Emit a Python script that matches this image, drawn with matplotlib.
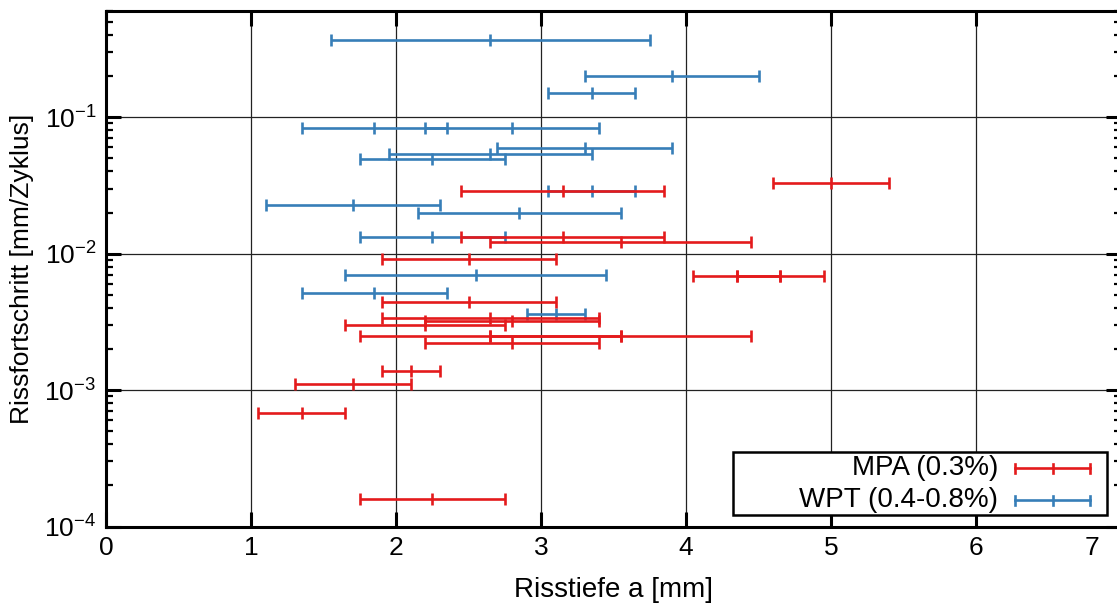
import matplotlib
matplotlib.use("Agg")
import matplotlib.pyplot as plt
import matplotlib.transforms as mtransforms
from matplotlib.lines import Line2D
from matplotlib.patches import Rectangle
import numpy as np

plt.rcParams['font.family'] = ['Liberation Sans', 'DejaVu Sans']
plt.rcParams['mathtext.fontset'] = 'custom'
plt.rcParams['mathtext.rm'] = 'Liberation Sans'
plt.rcParams['mathtext.it'] = 'Liberation Sans'
plt.rcParams['mathtext.default'] = 'regular'

# ---- data ----
mpa_label = "MPA (0.3%)"
mpa_x    = [3.15, 5.00, 3.15, 3.55, 2.50, 4.35, 4.65, 2.50, 2.65, 2.80, 2.20, 2.65, 3.55, 2.80, 2.10, 1.70, 1.35, 2.25]
mpa_xerr = [0.70, 0.40, 0.70, 0.90, 0.60, 0.30, 0.30, 0.60, 0.75, 0.60, 0.55, 0.90, 0.90, 0.60, 0.20, 0.40, 0.30, 0.50]
mpa_y    = [0.029, 0.033, 0.0132, 0.0122, 0.0091, 0.0069, 0.0068, 0.0044, 0.0034, 0.0032, 0.0030,
            0.0025, 0.0025, 0.0022, 0.00138, 0.0011, 0.00068, 0.00016]

wpt_label = "WPT (0.4-0.8%)"
wpt_x    = [2.65, 3.90, 3.35, 1.85, 2.80, 3.30, 2.65, 2.25, 3.35, 1.70, 2.85, 2.25, 2.55, 1.85, 3.10]
wpt_xerr = [1.10, 0.60, 0.30, 0.50, 0.60, 0.60, 0.70, 0.50, 0.30, 0.60, 0.70, 0.50, 0.90, 0.50, 0.20]
wpt_y    = [0.37, 0.20, 0.15, 0.083, 0.083, 0.059, 0.0537, 0.049, 0.029, 0.0227, 0.0199, 0.0132,
            0.0070, 0.00516, 0.0036]

x_ticks = [0, 1, 2, 3, 4, 5, 6, 7]
y_ticks = [1e-4, 1e-3, 1e-2, 1e-1]

red = '#E41A1C'
blue = '#377EB8'

W, H = 1117, 607
fig = plt.figure(figsize=(W / 100, H / 100), dpi=100)
ax = fig.add_axes([106 / W, 1 - 526.5 / H, (1121 - 106) / W, (526.5 - 11) / H])

eb_kw = dict(fmt='none', elinewidth=1.9, capsize=4.5, capthick=1.9, zorder=3)
ax.errorbar(wpt_x, wpt_y, xerr=wpt_xerr, ecolor=blue, **eb_kw)
ax.plot(wpt_x, wpt_y, ls='none', marker='|', ms=9, mew=1.9, color=blue, zorder=3)
ax.errorbar(mpa_x, mpa_y, xerr=mpa_xerr, ecolor=red, **eb_kw)
ax.plot(mpa_x, mpa_y, ls='none', marker='|', ms=9, mew=1.9, color=red, zorder=3)

ax.set_yscale('log')
ax.set_xlim(0, 7)
ax.set_ylim(1e-4, 0.6)
ax.set_xticks(x_ticks)
ax.set_xticklabels([str(t) for t in x_ticks])
ax.set_yticks(y_ticks)
ax.set_yticklabels([r'$10^{-4}$', r'$10^{-3}$', r'$10^{-2}$', r'$10^{-1}$'])
ax.yaxis.set_minor_locator(matplotlib.ticker.LogLocator(base=10, subs=np.arange(2, 10)))
ax.yaxis.set_minor_formatter(matplotlib.ticker.NullFormatter())

ax.grid(True, which='major', color='#222222', lw=0.9, zorder=1)
ax.tick_params(which='major', direction='in', length=11, width=2.2, top=True, right=True,
               labelsize=19, pad=7, colors='black')
ax.tick_params(which='minor', direction='in', length=5, width=1.6, top=False, right=True)
for s in ax.spines.values():
    s.set_linewidth(2.2)

# shift last x tick label ("7") left, as in the reference (cropped figure)
lbl7 = ax.get_xticklabels()[-1]
lbl7.set_transform(lbl7.get_transform() + mtransforms.ScaledTranslation(-0.29, 0, fig.dpi_scale_trans))

ax.set_xlabel('Risstiefe a [mm]', fontsize=20, labelpad=12)
ax.set_ylabel('Rissfortschritt [mm/Zyklus]', fontsize=19, labelpad=7)

# legend (gnuplot-like: right-aligned text, sample on the right)
tr = ax.transAxes
def ax_x(px):
    return (px - 106) / (1121 - 106)
def ax_y(py):
    return (526.5 - py) / (526.5 - 11)
box = Rectangle((ax_x(733), ax_y(515)), ax_x(1107) - ax_x(733), ax_y(452) - ax_y(515),
                transform=tr, facecolor='white', edgecolor='black', lw=1.8, zorder=5)
ax.add_patch(box)
for lbl, col, py in [(mpa_label, red, 468), (wpt_label, blue, 500)]:
    ax.text(ax_x(998), ax_y(py), lbl, transform=tr, ha='right', va='center', fontsize=20, zorder=6)
    xs = [ax_x(1015), ax_x(1090)]
    ys = [ax_y(py), ax_y(py)]
    ax.add_line(Line2D(xs, ys, transform=tr, color=col, lw=1.9, zorder=6))
    for xx in [ax_x(1015), ax_x(1052.5), ax_x(1090)]:
        ax.add_line(Line2D([xx, xx], [ax_y(py - 4.5), ax_y(py + 4.5)], transform=tr, color=col, lw=1.9, zorder=6))

fig.savefig('out.png', dpi=100)
